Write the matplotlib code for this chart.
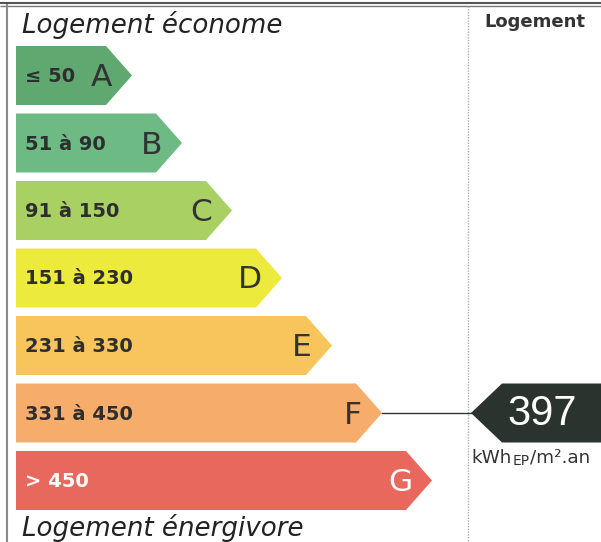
import matplotlib
matplotlib.use("Agg")
import matplotlib.pyplot as plt
import matplotlib.transforms as mtrans
from matplotlib.patches import Polygon

# ---- data ----
letters = ['A', 'B', 'C', 'D', 'E', 'F', 'G']
ranges = ['≤ 50', '51 à 90', '91 à 150', '151 à 230', '231 à 330', '331 à 450', '> 450']
colors = ['#5fa870', '#6dba85', '#a9d063', '#ecea3c', '#f7c55c', '#f6ad6b', '#e8685d']
text_colors = ['#333333'] * 6 + ['#ffffff']
value = 397
value_class = 'F'
title_top = 'Logement économe'
title_bottom = 'Logement énergivore'
header = 'Logement'

W, H = 601, 542
fig = plt.figure(figsize=(W / 100, H / 100), dpi=100)
ax = fig.add_axes([0, 0, 1, 1])
ax.set_xlim(0, W)
ax.set_ylim(H, 0)
ax.axis('off')

# frame
ax.plot([0, W], [2.5, 2.5], color='#555555', lw=1.5, solid_capstyle='butt')
ax.plot([0, W], [5.5, 5.5], color='#777777', lw=1.0, solid_capstyle='butt')
ax.plot([7, 7], [5, H], color='#8a8a8a', lw=1.5)
ax.plot([468, 468], [6, H], color='#b0b0b0', lw=1.0, ls=(0, (1, 1)))

x0 = 16
top0 = 46
step = 67.5
bh = 59
tip0 = 132
tip_step = 50
tip_len = 26

for i, (let, rng, col, tc) in enumerate(zip(letters, ranges, colors, text_colors)):
    top = top0 + i * step
    tip = tip0 + i * tip_step
    body = tip - tip_len
    poly = Polygon([(x0, top), (body, top), (tip, top + bh / 2), (body, top + bh), (x0, top + bh)],
                   closed=True, facecolor=col, edgecolor='none')
    ax.add_patch(poly)
    cy = top + bh / 2
    ax.text(25, cy + 1, rng, fontsize=14, fontweight='bold', color=tc if i == 6 else '#2e2e2e',
            va='center', ha='left', family='DejaVu Sans')
    ax.text(tip - 20, cy + 2, let, fontsize=22.5, color=tc, va='center', ha='right',
            family='DejaVu Sans')

ax.text(22, 25, title_top, fontsize=18.8, style='italic', color='#222222', va='center', ha='left',
        family='DejaVu Sans')
ax.text(22, 528, title_bottom, fontsize=18.8, style='italic', color='#222222', va='center', ha='left',
        family='DejaVu Sans')
ax.text(484, 22, header, fontsize=13, fontweight='bold', color='#333333', va='center', ha='left',
        family='DejaVu Sans')

# value arrow
k = letters.index(value_class)
top = top0 + k * step
cy = top + bh / 2
tipk = tip0 + k * tip_step
atip = 471
abody = 502
ax.plot([tipk, atip], [cy, cy], color='#333333', lw=1.0)
arrow = Polygon([(atip, cy), (abody, top), (W + 5, top), (W + 5, top + bh), (abody, top + bh)],
                closed=True, facecolor='#2b332e', edgecolor='none')
ax.add_patch(arrow)
ax.text(542, cy + 1, str(value), fontsize=30, color='white', va='center', ha='center',
        family='Liberation Sans')

# unit text
fig.canvas.draw()
r = fig.canvas.get_renderer()
ux = 471
uy = 458
blend = mtrans.blended_transform_factory(mtrans.IdentityTransform(), ax.transData)
t1 = ax.text(ux, uy, 'kWh', fontsize=13.2, color='#333333', va='center', ha='left', family='DejaVu Sans')
bb = t1.get_window_extent(r)
t2 = ax.text(bb.x1 + 1, uy + 3, 'EP', fontsize=10, color='#333333', va='center', ha='left',
             family='DejaVu Sans', transform=blend)
bb2 = t2.get_window_extent(r)
ax.text(bb2.x1 + 1, uy, '/m².an', fontsize=13.2, color='#333333', va='center', ha='left',
        family='DejaVu Sans', transform=blend)

fig.savefig('out.png', dpi=100)
